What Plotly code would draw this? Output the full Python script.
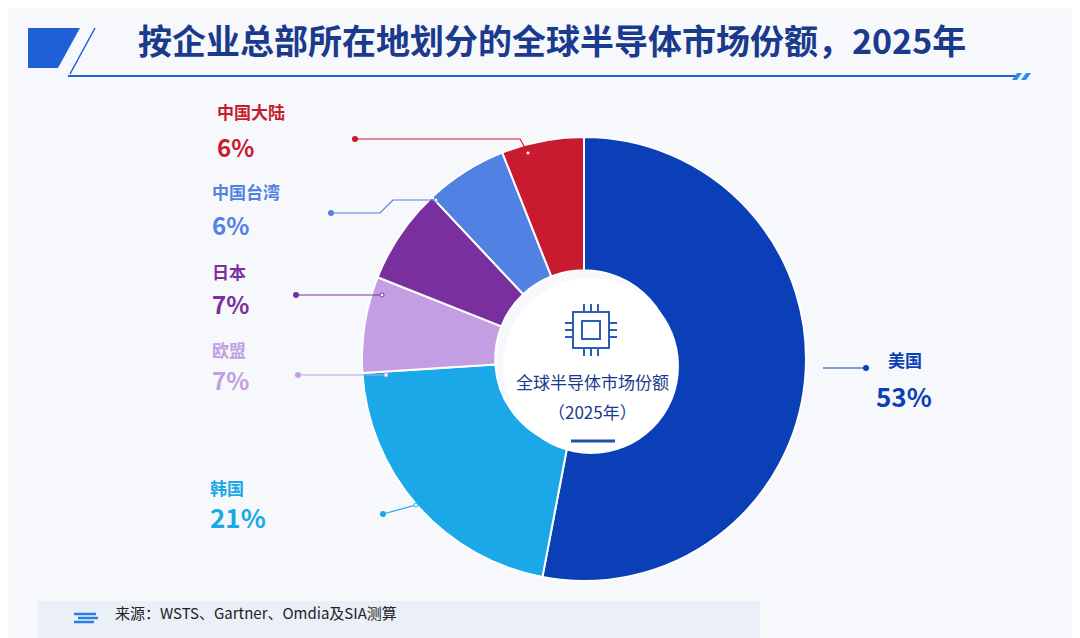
import plotly.graph_objects as go

labels = ["美国", "韩国", "欧盟", "日本", "中国台湾", "中国大陆"]
values = [53, 21, 7, 7, 6, 6]
colors = ["#0b3fb8", "#1ba8e8", "#c49ee2", "#7a2f9e", "#5181e2", "#c91b2f"]

W, H = 1080, 638
TEXT_SHIFT = 9  # CJK font sits a little low, pull labels up


def px(x):
    return x / W


def py(y):
    return 1 - y / H


fig = go.Figure()
fig.add_trace(go.Pie(
    labels=labels, values=values, hole=0.4, sort=False, direction="clockwise",
    rotation=0, textinfo="none", hoverinfo="label+percent",
    marker=dict(colors=colors, line=dict(color="white", width=2)),
    domain=dict(x=[px(354), px(798)], y=[py(573), py(129)]),
    showlegend=False,
))

shapes = []
annotations = []

# title decoration
shapes.append(dict(type="path", xref="paper", yref="paper",
                   path=f"M {px(20)} {py(20)} L {px(72)} {py(20)} L {px(50)} {py(60)} L {px(20)} {py(60)} Z",
                   fillcolor="#1f5fd8", line_width=0))
shapes.append(dict(type="line", xref="paper", yref="paper", x0=px(87), y0=py(20), x1=px(62), y1=py(66),
                   line=dict(color="#1f5fd8", width=1.5)))
shapes.append(dict(type="line", xref="paper", yref="paper", x0=px(60), y0=py(68), x1=px(1010), y1=py(68),
                   line=dict(color="#2a5fd0", width=2)))
for dx in (0, 9):
    shapes.append(dict(type="path", xref="paper", yref="paper",
                       path=f"M {px(1004+dx)} {py(72)} L {px(1009+dx)} {py(65)} L {px(1014+dx)} {py(65)} L {px(1009+dx)} {py(72)} Z",
                       fillcolor="#2a8ef0", line_width=0))
annotations.append(dict(x=px(128), y=py(36 - TEXT_SHIFT / 2), xref="paper", yref="paper", xanchor="left", yanchor="middle",
                        text="<b>按企业总部所在地划分的全球半导体市场份额，2025年</b>", showarrow=False,
                        font=dict(size=34, color="#1a3a8c", family="Noto Sans CJK SC")))

# centre circle content
shapes.append(dict(type="circle", xref="paper", yref="paper", x0=px(495), x1=px(671), y0=py(446), y1=py(270),
                   fillcolor="white", line_width=0))
shapes.append(dict(type="rect", xref="paper", yref="paper", x0=px(565), x1=px(601), y0=py(340), y1=py(304),
                   line=dict(color="#2a5fb8", width=2)))
shapes.append(dict(type="rect", xref="paper", yref="paper", x0=px(574), x1=px(592), y0=py(331), y1=py(313),
                   line=dict(color="#2a5fb8", width=2)))
for t in (0, 7, 14):
    shapes.append(dict(type="line", xref="paper", yref="paper", x0=px(576+t), x1=px(576+t), y0=py(304), y1=py(296),
                       line=dict(color="#2a5fb8", width=2)))
    shapes.append(dict(type="line", xref="paper", yref="paper", x0=px(576+t), x1=px(576+t), y0=py(340), y1=py(348),
                       line=dict(color="#2a5fb8", width=2)))
    shapes.append(dict(type="line", xref="paper", yref="paper", x0=px(557), x1=px(565), y0=py(315+t), y1=py(315+t),
                       line=dict(color="#2a5fb8", width=2)))
    shapes.append(dict(type="line", xref="paper", yref="paper", x0=px(601), x1=px(609), y0=py(315+t), y1=py(315+t),
                       line=dict(color="#2a5fb8", width=2)))
shapes.append(dict(type="line", xref="paper", yref="paper", x0=px(563), x1=px(607), y0=py(433), y1=py(433),
                   line=dict(color="#1f4fb0", width=3)))
annotations.append(dict(x=px(584), y=py(377 - 4), xref="paper", yref="paper", showarrow=False,
                        text="全球半导体市场份额", font=dict(size=17, color="#1a3a8c", family="Noto Sans CJK SC")))
annotations.append(dict(x=px(584), y=py(407 - 4), xref="paper", yref="paper", showarrow=False,
                        text="（2025年）", font=dict(size=17, color="#1a3a8c", family="Noto Sans CJK SC")))

# callouts: slice index, name xy, pct xy, leader path points
callouts = [
    (0, (878, 360), (866, 397), [(858, 360), (815, 360)]),
    (1, (200, 488), (200, 517), [(375, 506), (408, 497)]),
    (2, (202, 350), (202, 380), [(290, 367), (378, 367)]),
    (3, (202, 272), (202, 304), [(288, 287), (374, 287)]),
    (4, (202, 193), (202, 226), [(323, 205), (372, 205), (385, 192), (428, 192)]),
    (5, (207, 113), (207, 147), [(347, 131), (512, 131), (520, 145)]),
]
for i, (nx, ny), (qx, qy), pts in callouts:
    c = colors[i]
    path = "M " + " L ".join(f"{px(x)} {py(y)}" for x, y in pts)
    shapes.append(dict(type="path", xref="paper", yref="paper", path=path, line=dict(color=c, width=1.2)))
    x0, y0 = pts[0]
    shapes.append(dict(type="circle", xref="paper", yref="paper", x0=px(x0-3), x1=px(x0+3), y0=py(y0+3), y1=py(y0-3),
                       fillcolor=c, line_width=0))
    x1, y1 = pts[-1]
    if i != 0:
        shapes.append(dict(type="circle", xref="paper", yref="paper", x0=px(x1-2), x1=px(x1+2), y0=py(y1+2), y1=py(y1-2),
                           fillcolor="white", line=dict(color=c, width=1)))
    annotations.append(dict(x=px(nx), y=py(ny - TEXT_SHIFT), xref="paper", yref="paper", xanchor="left", yanchor="middle",
                            showarrow=False, text=f"<b>{labels[i]}</b>",
                            font=dict(size=17, color=c, family="Noto Sans CJK SC")))
    annotations.append(dict(x=px(qx), y=py(qy - TEXT_SHIFT), xref="paper", yref="paper", xanchor="left", yanchor="middle",
                            showarrow=False, text=f"<b>{values[i]}%</b>",
                            font=dict(size=26 if i in (0, 1) else 24, color=c, family="Noto Sans CJK SC")))

# footer
shapes.append(dict(type="rect", xref="paper", yref="paper", x0=px(30), x1=px(752), y0=py(631), y1=py(593),
                   fillcolor="#eaeff8", line_width=0, layer="below"))
for k, (a, b) in enumerate([(66, 88), (70, 90), (66, 86)]):
    shapes.append(dict(type="line", xref="paper", yref="paper", x0=px(a), x1=px(b), y0=py(606+k*4), y1=py(606+k*4),
                       line=dict(color="#2a7fe0", width=2.5)))
annotations.append(dict(x=px(105), y=py(612 - 8), xref="paper", yref="paper", xanchor="left", yanchor="middle",
                        showarrow=False, text="来源：WSTS、Gartner、Omdia及SIA测算",
                        font=dict(size=15, color="#222", family="Noto Sans CJK SC")))

fig.update_layout(
    width=W, height=H, autosize=False,
    margin=dict(l=0, r=0, t=0, b=0),
    paper_bgcolor="#f6f8fc", plot_bgcolor="#f6f8fc",
    shapes=shapes, annotations=annotations,
)

fig.write_html("out.html")
